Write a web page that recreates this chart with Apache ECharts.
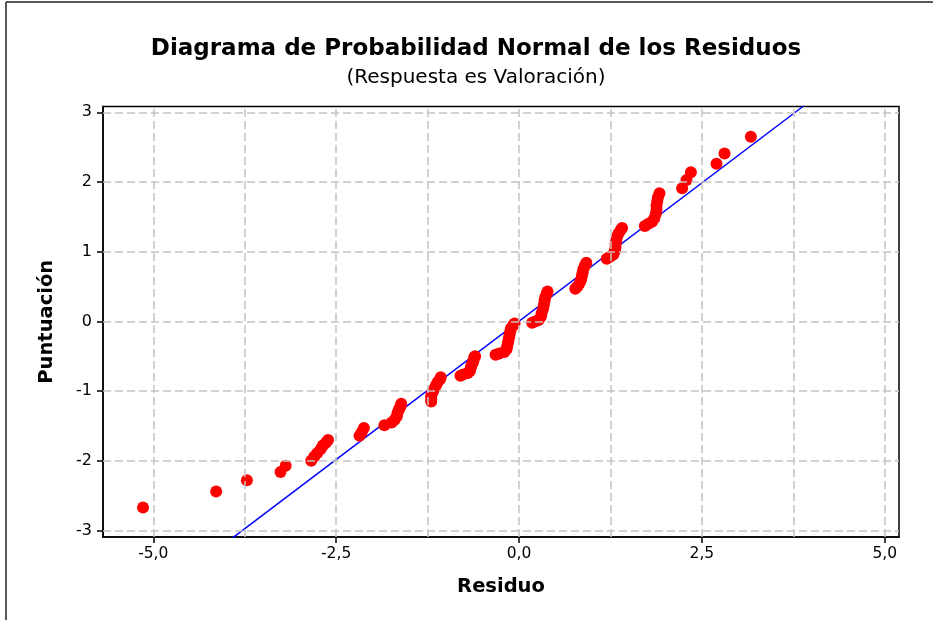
<!DOCTYPE html>
<html><head><meta charset="utf-8">
<script src="https://cdn.jsdelivr.net/npm/echarts@6/dist/echarts.min.js"></script>
<style>html,body{margin:0;padding:0;background:#fff}#c{width:933px;height:620px}</style>
</head><body><div id="c"></div>
<script>
// Residuals (x) and normal scores (y)
const residuals = [
  -5.14, -4.14, -3.72, -3.26, -3.19,
  -2.84, -2.80, -2.76, -2.71, -2.68, -2.64, -2.61,
  -2.18, -2.15, -2.12,
  -1.84, -1.74, -1.70, -1.67, -1.66, -1.64, -1.62, -1.61,
  -1.20, -1.20, -1.20, -1.19, -1.17, -1.15, -1.13, -1.11, -1.08, -1.07,
  -0.80, -0.76, -0.70, -0.67, -0.66, -0.65, -0.63, -0.62, -0.61, -0.60,
  -0.32, -0.27, -0.20, -0.17, -0.16, -0.15, -0.14, -0.13, -0.12, -0.11, -0.08, -0.06,
  0.18, 0.22, 0.27, 0.30, 0.31, 0.33, 0.34, 0.35, 0.36, 0.38, 0.39,
  0.77, 0.80, 0.83, 0.85, 0.86, 0.87, 0.88, 0.90, 0.92,
  1.20, 1.25, 1.29, 1.31, 1.32, 1.32, 1.33, 1.34, 1.36, 1.39, 1.41,
  1.72, 1.77, 1.82, 1.85, 1.87, 1.88, 1.88, 1.89, 1.90, 1.92,
  2.23, 2.29, 2.35, 2.70, 2.81, 3.17
];
const scores = [
  -2.67, -2.44, -2.28, -2.16, -2.07,
  -2.00, -1.94, -1.89, -1.83, -1.78, -1.74, -1.70,
  -1.64, -1.59, -1.53,
  -1.49, -1.45, -1.41, -1.36, -1.31, -1.26, -1.22, -1.18,
  -1.15, -1.11, -1.07, -1.03, -0.99, -0.95, -0.91, -0.87, -0.83, -0.80,
  -0.78, -0.76, -0.74, -0.71, -0.67, -0.63, -0.59, -0.55, -0.51, -0.50,
  -0.48, -0.46, -0.44, -0.40, -0.35, -0.30, -0.25, -0.20, -0.15, -0.10, -0.06, -0.03,
  -0.02, 0.00, 0.02, 0.07, 0.12, 0.18, 0.24, 0.30, 0.35, 0.40, 0.43,
  0.47, 0.50, 0.55, 0.60, 0.65, 0.70, 0.75, 0.80, 0.84,
  0.90, 0.93, 0.96, 1.01, 1.06, 1.11, 1.16, 1.21, 1.26, 1.31, 1.34,
  1.37, 1.40, 1.43, 1.48, 1.54, 1.60, 1.66, 1.72, 1.78, 1.84,
  1.91, 2.03, 2.14, 2.26, 2.41, 2.65
];
// Fitted reference line endpoints
const fitX = [-3.92, 3.89];
const fitY = [-3.11, 3.09];
// Axis ticks and grid lines
const xTicks = [-5, -2.5, 0, 2.5, 5];
const xGrid = [-5, -3.75, -2.5, -1.25, 0, 1.25, 2.5, 3.75, 5];
const yTicks = [-3, -2, -1, 0, 1, 2, 3];
const xRange = [-5.687, 5.195];
const yRange = [-3.093, 3.083];

const FONT = 'DejaVu Sans';
const gridStyle = {color: '#c4c4c4', width: 1.5, type: [8, 4]};

const chart = echarts.init(document.getElementById('c'), null, {renderer: 'canvas'});
chart.setOption({
  animation: false,
  backgroundColor: '#fff',
  title: [
    {text: 'Diagrama de Probabilidad Normal de los Residuos', left: 471, top: 33, textAlign: 'center',
     textStyle: {fontFamily: FONT, fontSize: 23, fontWeight: 'bold', color: '#000'}},
    {text: '(Respuesta es Valoración)', left: 471, top: 63, textAlign: 'center',
     textStyle: {fontFamily: FONT, fontSize: 20, fontWeight: 'normal', color: '#000'}}
  ],
  graphic: [
    {type: 'line', shape: {x1: 6, y1: 2, x2: 933, y2: 2}, style: {stroke: '#222', lineWidth: 1.5}},
    {type: 'line', shape: {x1: 6, y1: 2, x2: 6, y2: 620}, style: {stroke: '#222', lineWidth: 1.5}}
  ],
  grid: {left: 103, right: 34, top: 106.5, bottom: 83, show: true, borderColor: '#000', borderWidth: 1.5, backgroundColor: 'transparent'},
  xAxis: {
    type: 'value', min: xRange[0], max: xRange[1],
    name: 'Residuo', nameLocation: 'middle', nameGap: 40,
    nameTextStyle: {fontFamily: FONT, fontSize: 19.5, fontWeight: 'bold', color: '#000'},
    axisLine: {show: true, onZero: false, lineStyle: {color: '#000', width: 1.5}},
    axisTick: {show: true, length: 6, customValues: xTicks, lineStyle: {color: '#000', width: 1.5}},
    axisLabel: {customValues: xTicks, margin: 9, fontFamily: FONT, fontSize: 15.5, color: '#000',
      formatter: v => v.toFixed(1).replace('.', ',')},
    splitLine: {show: false}
  },
  yAxis: {
    type: 'value', min: yRange[0], max: yRange[1],
    name: 'Puntuación', nameLocation: 'middle', nameGap: 46, nameRotate: 90,
    nameTextStyle: {fontFamily: FONT, fontSize: 19.5, fontWeight: 'bold', color: '#000'},
    axisLine: {show: true, onZero: false, lineStyle: {color: '#000', width: 1.5}},
    axisTick: {show: true, length: 6, customValues: yTicks, lineStyle: {color: '#000', width: 1.5}},
    axisLabel: {customValues: yTicks, margin: 11, fontFamily: FONT, fontSize: 16, color: '#000',
      formatter: v => String(Math.round(v))},
    splitLine: {show: false}
  },
  series: [
    {
      type: 'line', data: [], z: 1, silent: true,
      markLine: {
        silent: true, symbol: ['none', 'none'], label: {show: false}, animation: false,
        lineStyle: gridStyle,
        data: xGrid.map(v => ({xAxis: v})).concat(yTicks.map(v => ({yAxis: v})))
      }
    },
    {
      type: 'line', z: 3, symbol: 'none', silent: true,
      data: fitX.map((x, i) => [x, fitY[i]]),
      lineStyle: {color: '#0000ff', width: 1.5}
    },
    {
      type: 'scatter', z: 4, symbol: 'circle', symbolSize: 12,
      itemStyle: {color: '#ff0000', opacity: 1},
      data: residuals.map((x, i) => [x, scores[i]])
    }
  ]
});
</script></body></html>
